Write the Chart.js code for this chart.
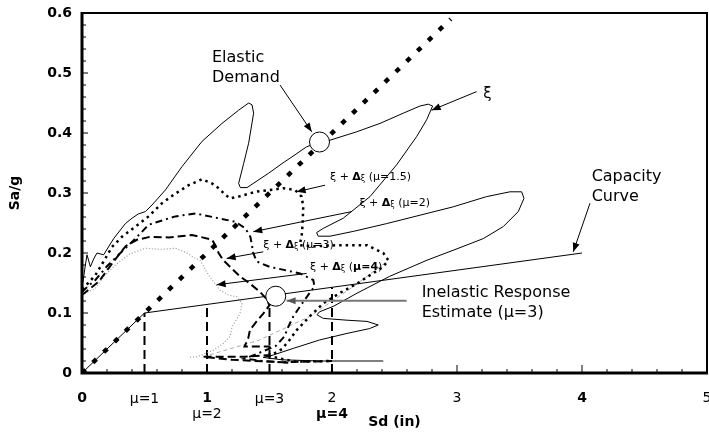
<!DOCTYPE html>
<html>
<head>
<meta charset="utf-8">
<script src="https://cdn.jsdelivr.net/npm/chart.js@4"></script>
<style>
html, body { margin: 0; padding: 0; background: #fff; overflow: hidden; }
canvas { display: block; }
</style>
</head>
<body>
<canvas id="myChart" width="720" height="438"></canvas>
<script>
// values (Sd in inches, Sa in g)
const xiCurve = [[0.0,0.14],[0.013,0.16],[0.027,0.18],[0.04,0.197],[0.067,0.177],[0.093,0.19],[0.12,0.2],[0.173,0.197],[0.253,0.224],[0.347,0.249],[0.4,0.258],[0.45,0.265],[0.507,0.269],[0.56,0.28],[0.667,0.305],[0.8,0.344],[0.96,0.386],[1.12,0.416],[1.253,0.438],[1.333,0.45],[1.36,0.447],[1.373,0.433],[1.333,0.383],[1.293,0.349],[1.253,0.316],[1.267,0.309],[1.32,0.309],[1.493,0.333],[1.6,0.349],[1.664,0.358],[1.797,0.377],[1.9,0.385],[1.984,0.388],[2.197,0.402],[2.384,0.416],[2.57,0.433],[2.704,0.445],[2.77,0.448],[2.805,0.445],[2.757,0.422],[2.677,0.394],[2.517,0.347],[2.304,0.294],[2.09,0.258],[1.93,0.241],[1.877,0.234],[1.89,0.228],[1.984,0.228],[2.17,0.236],[2.437,0.249],[2.704,0.263],[2.97,0.277],[3.237,0.294],[3.424,0.302],[3.517,0.302],[3.536,0.291],[3.49,0.269],[3.37,0.244],[3.21,0.224],[3.0,0.207],[2.76,0.188],[2.46,0.161],[2.2,0.133],[2.01,0.111],[1.9,0.102],[1.88,0.097],[1.93,0.091],[2.12,0.088],[2.28,0.086],[2.37,0.08],[2.3,0.074],[2.12,0.066],[1.9,0.055],[1.69,0.041],[1.53,0.03],[1.45,0.026],[1.6,0.022],[1.9,0.02],[2.2,0.02],[2.41,0.02]];

const mu15Curve = [[0.0,0.14],[0.05,0.15],[0.107,0.163],[0.17,0.185],[0.24,0.21],[0.32,0.227],[0.427,0.244],[0.533,0.261],[0.64,0.283],[0.747,0.299],[0.853,0.313],[0.96,0.323],[1.04,0.316],[1.093,0.308],[1.147,0.297],[1.187,0.291],[1.253,0.294],[1.387,0.302],[1.504,0.305],[1.61,0.308],[1.704,0.305],[1.757,0.294],[1.77,0.277],[1.765,0.249],[1.757,0.227],[1.74,0.213],[1.85,0.211],[2.04,0.213],[2.28,0.213],[2.41,0.2],[2.45,0.188],[2.41,0.177],[2.2,0.149],[2.06,0.133],[1.93,0.116],[1.82,0.094],[1.72,0.072],[1.66,0.055],[1.6,0.04],[1.5,0.028],[1.7,0.019],[2.0,0.02]];

const mu2Curve = [[0.0,0.135],[0.05,0.145],[0.107,0.155],[0.2,0.178],[0.293,0.197],[0.427,0.224],[0.533,0.247],[0.667,0.256],[0.747,0.261],[0.907,0.266],[1.067,0.259],[1.227,0.252],[1.307,0.241],[1.347,0.227],[1.357,0.216],[1.37,0.2],[1.397,0.186],[1.5,0.177],[1.744,0.166],[1.85,0.155],[1.86,0.144],[1.82,0.133],[1.744,0.111],[1.69,0.094],[1.65,0.077],[1.62,0.061],[1.55,0.045],[1.4,0.032],[1.3,0.024],[1.45,0.02],[1.65,0.017]];

const mu3Curve = [[0.0,0.13],[0.06,0.14],[0.133,0.152],[0.25,0.185],[0.347,0.211],[0.44,0.222],[0.544,0.227],[0.693,0.226],[0.88,0.23],[0.944,0.227],[1.04,0.222],[1.067,0.213],[1.093,0.2],[1.13,0.188],[1.184,0.177],[1.264,0.161],[1.344,0.149],[1.424,0.135],[1.47,0.125],[1.5,0.113],[1.45,0.099],[1.397,0.086],[1.344,0.072],[1.33,0.058],[1.3,0.044],[1.5,0.044],[1.5,0.03],[1.3,0.027],[0.97,0.027],[1.2,0.022],[1.6,0.018],[2.0,0.02]];

const mu4Curve = [[0.0,0.13],[0.05,0.135],[0.107,0.141],[0.18,0.162],[0.267,0.18],[0.38,0.198],[0.507,0.208],[0.624,0.206],[0.747,0.208],[0.84,0.2],[0.907,0.191],[0.944,0.188],[1.013,0.163],[1.104,0.138],[1.17,0.13],[1.24,0.127],[1.28,0.116],[1.264,0.099],[1.2,0.077],[1.184,0.061],[1.13,0.049],[1.05,0.038],[0.92,0.027],[0.85,0.026]];

const mu4Return = [[0.97,0.027],[1.42,0.055],[1.82,0.094],[2.17,0.144],[2.44,0.186]];

const capacityCurve = [[0,0],[0.5,0.1],[4,0.2]];
const elasticDemand = [[0,0],[2.95,0.59]];
const responsePoints = [[1.9,0.385],[1.55,0.128]];

// ductility demand markers on the capacity curve
const muSd = [0.5, 1, 1.5, 2];
const muSa = [0.1, 0.114, 0.127, 0.143];
const muNames = ['\u03bc=1', '\u03bc=2', '\u03bc=3', '\u03bc=4'];

const xTickLabels = ['0', '1', '2', '3', '4', '5'];
const yTickLabels = ['0', '0.1', '0.2', '0.3', '0.4', '0.5', '0.6'];

// call-outs: [fromSd, fromSa, toSd, toSa]
const blackArrows = [
    [1.584, 0.48, 1.838, 0.402],
    [3.157, 0.469, 2.797, 0.438],
    [1.944, 0.313, 1.717, 0.302],
    [2.157, 0.269, 1.37, 0.2355],
    [1.45, 0.202, 1.157, 0.191],
    [1.797, 0.166, 1.077, 0.147],
    [4.064, 0.283, 3.93, 0.202]
];
const grayArrows = [[2.597, 0.1205, 1.637, 0.1205]];

const plainLabels = [
    ['Elastic', 1.04, 0.525],
    ['Demand', 1.04, 0.492],
    ['Capacity', 4.077, 0.327],
    ['Curve', 4.077, 0.294],
    ['Inelastic Response', 2.717, 0.134],
    ['Estimate (\u03bc=3)', 2.717, 0.0995]
];
const dampLabels = [
    ['1.5', 1.984, 0.327],
    ['2', 2.219, 0.283],
    ['3', 1.45, 0.2133],
    ['4', 1.824, 0.177]
];

const FONT = "'DejaVu Sans', sans-serif";

function pts(arr) {
    return arr.map(p => ({ x: p[0], y: p[1] }));
}

function curve(arr, color, width, dash) {
    return {
        data: pts(arr),
        showLine: true,
        borderColor: color,
        borderWidth: width,
        borderDash: dash,
        pointRadius: 0,
        fill: false,
        tension: 0
    };
}

const datasets = [
    {
        data: pts(responsePoints),
        showLine: false,
        pointRadius: 10,
        pointBackgroundColor: '#fff',
        pointBorderColor: '#000',
        pointBorderWidth: 1
    },
    curve(capacityCurve, '#000', 1, []),
    curve(xiCurve, '#000', 1, []),
    curve(mu15Curve, '#000', 2.5, [2.5, 4]),
    curve(mu2Curve, '#000', 2, [7, 4, 2, 4]),
    curve(mu3Curve, '#000', 2, [8, 4]),
    curve(mu4Curve, '#999', 1.2, [1, 2]),
    curve(mu4Return, '#aaa', 1, [4, 3]),
    curve(elasticDemand, '#000', 4.5, [5, 10])
];
muSd.forEach((sd, i) => {
    datasets.push(curve([[sd, 0], [sd, muSa[i]]], '#000', 2, [9, 5]));
});

function arrow(c, x1, y1, x2, y2) {
    c.beginPath();
    c.moveTo(x1, y1);
    c.lineTo(x2, y2);
    c.stroke();
    const ang = Math.atan2(y2 - y1, x2 - x1);
    c.beginPath();
    c.moveTo(x2, y2);
    c.lineTo(x2 - 9 * Math.cos(ang) + 3.5 * Math.sin(ang), y2 - 9 * Math.sin(ang) - 3.5 * Math.cos(ang));
    c.lineTo(x2 - 9 * Math.cos(ang) - 3.5 * Math.sin(ang), y2 - 9 * Math.sin(ang) + 3.5 * Math.cos(ang));
    c.closePath();
    c.fill();
}

function drawParts(c, x, y, parts) {
    parts.forEach(p => {
        c.font = p[1];
        c.fillText(p[0], x, y + (p[2] || 0));
        x += c.measureText(p[0]).width;
    });
}

const overlay = {
    id: 'overlay',
    afterDatasetsDraw(chart) {
        const c = chart.ctx;
        const a = chart.chartArea;
        const xs = chart.scales.x, ys = chart.scales.y;
        const px = v => xs.getPixelForValue(v);
        const py = v => ys.getPixelForValue(v);
        c.save();
        c.setLineDash([]);
        c.strokeStyle = '#000';
        c.fillStyle = '#000';

        // frame
        c.lineWidth = 2;
        c.beginPath();
        c.moveTo(a.left, a.top);
        c.lineTo(a.right, a.top);
        c.lineTo(a.right, a.bottom);
        c.stroke();
        c.lineWidth = 3;
        c.beginPath();
        c.moveTo(a.left, a.top - 1);
        c.lineTo(a.left, a.bottom);
        c.lineTo(a.right + 1, a.bottom);
        c.stroke();

        // inward ticks
        c.lineWidth = 1;
        c.beginPath();
        for (let i = 1; i < 30; i++) {
            const y = py(i * 0.02);
            c.moveTo(a.left, y);
            c.lineTo(a.left + (i % 5 === 0 ? 6 : 4), y);
        }
        for (let i = 1; i < 25; i++) {
            const x = px(i * 0.2);
            c.moveTo(x, a.bottom);
            c.lineTo(x, a.bottom - (i % 5 === 0 ? 8 : 4));
        }
        c.stroke();

        // call-out arrows
        c.lineWidth = 1;
        blackArrows.forEach(r => arrow(c, px(r[0]), py(r[1]), px(r[2]), py(r[3])));
        c.strokeStyle = '#777';
        c.fillStyle = '#555';
        c.lineWidth = 2;
        grayArrows.forEach(r => arrow(c, px(r[0]), py(r[1]), px(r[2]), py(r[3])));

        // text
        c.fillStyle = '#000';
        c.textBaseline = 'middle';
        c.textAlign = 'left';
        c.font = '16px ' + FONT;
        plainLabels.forEach(l => c.fillText(l[0], px(l[1]), py(l[2])));
        c.font = '15px ' + FONT;
        c.fillText('\u03be', px(3.21), py(0.465));

        dampLabels.forEach((l, i) => {
            const tail = i === 3 ? 'bold 11px ' : '11px ';
            drawParts(c, px(l[1]), py(l[2]), [
                ['\u03be + ', '11px ' + FONT],
                ['\u0394', 'bold 11px ' + FONT],
                ['\u03be', '8px ' + FONT, 2],
                [' (', '11px ' + FONT],
                ['\u03bc=' + l[0], tail + FONT],
                [')', '11px ' + FONT]
            ]);
        });

        // ductility labels under the axis
        c.textAlign = 'center';
        muSd.forEach((sd, i) => {
            c.font = (i === 3 ? 'bold ' : '') + '14px ' + FONT;
            c.fillText(muNames[i], px(sd), a.bottom + (i % 2 === 0 ? 26 : 41));
        });
        c.restore();
    }
};

const ctx = document.getElementById('myChart');

new Chart(ctx, {
    type: 'scatter',
    data: { datasets: datasets },
    options: {
        responsive: false,
        animation: false,
        layout: { padding: { left: 0, right: 13, top: 13, bottom: 0 } },
        plugins: {
            legend: { display: false },
            tooltip: { enabled: false }
        },
        scales: {
            x: {
                type: 'linear',
                min: 0,
                max: 5,
                grid: { display: false, drawTicks: false },
                border: { display: false },
                afterFit: s => {
                    s.height = 65;
                    s.paddingLeft = 0;
                    s.paddingRight = 0;
                },
                ticks: {
                    stepSize: 1,
                    padding: 17,
                    color: '#000',
                    maxRotation: 0,
                    callback: (v) => xTickLabels[Math.round(v)],
                    font: (c) => ({
                        family: FONT,
                        size: 14,
                        weight: (c.tick && [0, 1, 4].includes(Math.round(c.tick.value))) ? 'bold' : 'normal'
                    })
                },
                title: {
                    display: true,
                    text: 'Sd (in)',
                    color: '#000',
                    font: { family: FONT, size: 14, weight: 'bold' },
                    padding: { top: 0, bottom: 7 }
                }
            },
            y: {
                type: 'linear',
                min: 0,
                max: 0.6,
                grid: { display: false, drawTicks: false },
                border: { display: false },
                afterFit: s => {
                    s.width = 82;
                    s.paddingTop = 0;
                    s.paddingBottom = 0;
                },
                ticks: {
                    stepSize: 0.1,
                    padding: 10,
                    color: '#000',
                    callback: (v) => yTickLabels[Math.round(v * 10)],
                    font: { family: FONT, size: 14, weight: 'bold' }
                },
                title: {
                    display: true,
                    text: 'Sa/g',
                    color: '#000',
                    font: { family: FONT, size: 14, weight: 'bold' },
                    padding: { top: 7, bottom: 0 }
                }
            }
        }
    },
    plugins: [overlay]
});
</script>
</body>
</html>
